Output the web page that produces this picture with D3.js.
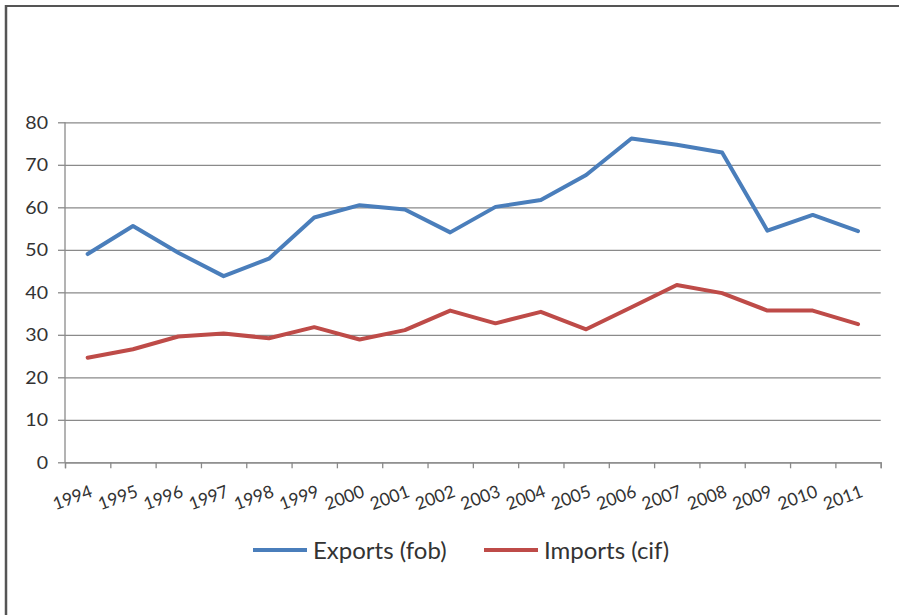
<!DOCTYPE html>
<html>
<head>
<meta charset="utf-8">
<script src="https://cdn.jsdelivr.net/npm/d3@7"></script>
<style>
  html, body { margin: 0; padding: 0; background: #fff; }
  svg { display: block; }
  text { font-family: Lato, "Open Sans", "Liberation Sans", sans-serif; fill: #333; }
</style>
</head>
<body>
<svg id="chart" width="899" height="615"></svg>
<script>
const years = ["1994","1995","1996","1997","1998","1999","2000","2001","2002","2003","2004","2005","2006","2007","2008","2009","2010","2011"];
const exportsFob = [49.0, 55.6, 49.3, 43.8, 47.9, 57.6, 60.5, 59.5, 54.1, 60.1, 61.7, 67.6, 76.2, 74.7, 72.9, 54.5, 58.2, 54.4];
const importsCif = [24.6, 26.6, 29.6, 30.3, 29.2, 31.8, 28.9, 31.1, 35.7, 32.7, 35.4, 31.3, 36.5, 41.7, 39.8, 35.7, 35.7, 32.5];
const yTicks = [0, 10, 20, 30, 40, 50, 60, 70, 80];
const seriesNames = ["Exports (fob)", "Imports (cif)"];
const seriesColors = ["#4a7ebb", "#be4b48"];

const svg = d3.select("#chart");

// frame
svg.append("line").attr("x1", 5).attr("x2", 899).attr("y1", 6).attr("y2", 6)
  .attr("stroke", "#555").attr("stroke-width", 2);
svg.append("line").attr("x1", 6).attr("x2", 6).attr("y1", 5).attr("y2", 615)
  .attr("stroke", "#555").attr("stroke-width", 2.5);

const pLeft = 65, pRight = 880.7, pTop = 122.3, pBottom = 462.3;

const x = d3.scaleBand().domain(years).range([pLeft, pRight]).padding(0);
const xIdx = d3.scaleLinear().domain([0, years.length]).range([pLeft, pRight]);
const y = d3.scaleLinear().domain([0, 80]).range([pBottom, pTop]);

// gridlines
const grid = svg.append("g").attr("transform", `translate(${pLeft},0)`)
  .call(d3.axisLeft(y).tickValues(yTicks).tickSize(-(pRight - pLeft)).tickFormat(""));
grid.select(".domain").remove();
grid.selectAll(".tick line").attr("stroke", "#8a8a8a").attr("stroke-width", 1.3);

// left tick stubs
grid.selectAll(".tick").append("line")
  .attr("x1", -7).attr("x2", 0).attr("stroke", "#8a8a8a").attr("stroke-width", 1.3);

// y axis line
svg.append("line").attr("x1", pLeft).attr("x2", pLeft).attr("y1", pTop).attr("y2", pBottom)
  .attr("stroke", "#8a8a8a").attr("stroke-width", 1.3);

// y labels
const yAxis = svg.append("g").attr("transform", `translate(${pLeft - 17},0)`)
  .call(d3.axisLeft(y).tickValues(yTicks).tickSize(0).tickPadding(0));
yAxis.select(".domain").remove();
yAxis.selectAll("text")
  .attr("x", 0).attr("dy", "0.36em")
  .attr("transform", "scale(1.15,1)")
  .style("font-size", "17px").attr("fill", "#333")
  .style("font-family", "Lato, 'Open Sans', sans-serif");

// x axis boundary ticks
const xAxis = svg.append("g").attr("transform", `translate(0,${pBottom})`)
  .call(d3.axisBottom(xIdx).tickValues(d3.range(years.length + 1)).tickSize(6).tickFormat(""));
xAxis.select(".domain").attr("stroke", "#8a8a8a").attr("stroke-width", 1.3);
xAxis.selectAll(".tick line").attr("stroke", "#8a8a8a").attr("stroke-width", 1.3);

// x labels
svg.append("g").selectAll("text").data(years).join("text")
  .attr("transform", d => `translate(${x(d) + x.bandwidth() / 2 + 6},${pBottom + 34}) rotate(-20)`)
  .attr("text-anchor", "end")
  .style("font-size", "17.5px")
  .text(d => d);

// lines
const line = d3.line()
  .x((d, i) => x(years[i]) + x.bandwidth() / 2)
  .y(d => y(d));

[exportsFob, importsCif].forEach((vals, k) => {
  svg.append("path").datum(vals)
    .attr("fill", "none")
    .attr("stroke", seriesColors[k])
    .attr("stroke-width", 4)
    .attr("stroke-linejoin", "round")
    .attr("stroke-linecap", "round")
    .attr("d", line);
});

// legend
const legendX = [253, 484];
const legend = svg.append("g");
seriesNames.forEach((name, k) => {
  legend.append("line")
    .attr("x1", legendX[k]).attr("x2", legendX[k] + 54)
    .attr("y1", 550).attr("y2", 550)
    .attr("stroke", seriesColors[k]).attr("stroke-width", 4);
  legend.append("text")
    .attr("x", legendX[k] + 60).attr("y", 559)
    .style("font-size", "24px")
    .attr("fill", "#222")
    .text(name);
});
</script>
</body>
</html>
